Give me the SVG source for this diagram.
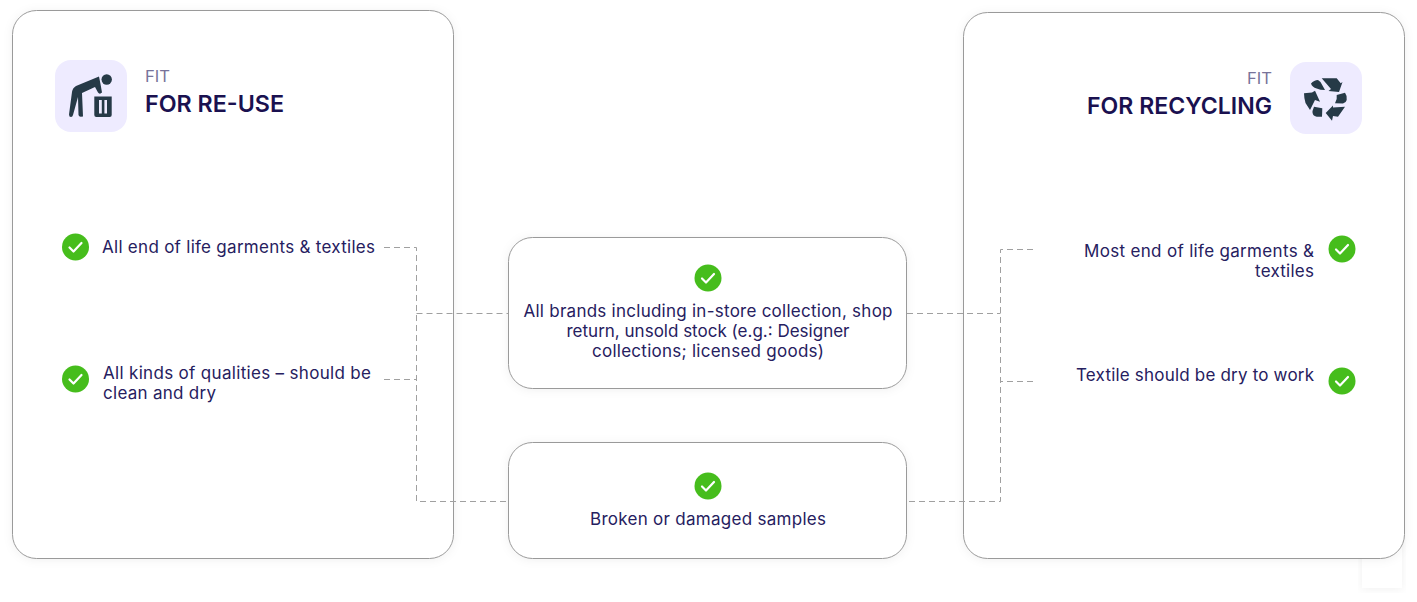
<svg xmlns="http://www.w3.org/2000/svg" width="1417" height="602" viewBox="0 0 1417 602">
<style>
.card{fill:#fff;stroke:#9a9a9a;stroke-width:1;filter:url(#sh)}
.tile{fill:#eeebff}
.ink{fill:#263a47}
.fit{font:400 16px Inter,"Liberation Sans",sans-serif;fill:#77739a}
.head{font:600 23px Inter,"Liberation Sans",sans-serif;fill:#1a1150}
.t{font:400 17px Inter,"Liberation Sans",sans-serif;fill:#262060}
.m{text-anchor:middle}
.e{text-anchor:end}
.dash{fill:none;stroke:#a0a0a0;stroke-width:1;stroke-dasharray:6 4}
.ok{fill:#46bd1c}
.tick{fill:none;stroke:#fff;stroke-width:2.2;stroke-linecap:round;stroke-linejoin:round}
</style>
<defs>
<filter id="sh" x="-10%" y="-10%" width="120%" height="120%"><feDropShadow dx="0" dy="1" stdDeviation="5" flood-color="#000" flood-opacity=".06"/></filter>
<g id="check"><circle class="ok" r="13.500"/><path class="tick" d="M-6 0.500 L-2 4.500 L6 -4"/></g>
</defs>
<rect id="backdrop" width="1417" height="602" fill="#fff"/>
<rect x="1362" y="540" width="40" height="48" fill="#fff" filter="url(#sh)"/>
<g id="card-reuse">
<rect class="card" x="12.500" y="10.500" width="441" height="548" rx="24"/>
<rect class="tile" x="55" y="60" width="72" height="72" rx="16"/>
<g class="ink">
<circle cx="106.700" cy="79.500" r="5.200"/>
<path d="M99 76.500 L76 86 Q72.500 88 72 92 L69 114.500 Q69 117 71 117 Q72.500 117 73 115 L78 97 L78.500 115 Q79 117 81 116.800 L83 116.500 L82 93 L95 87 L98 92.500 Q99 94 100.500 93.500 L102 92.500 L100.500 84 Z"/>
<path fill-rule="evenodd" d="M94.300 96.500 H111.700 V115 Q111.700 117 109.700 117 H96.300 Q94.300 117 94.300 115 Z M99 100 V113.500 H101.800 V100 Z M104.400 100 V113.500 H107 V100 Z"/>
</g>
<text class="fit" x="145" y="82" textLength="25" lengthAdjust="spacingAndGlyphs">FIT</text>
<text class="head" x="145" y="112" textLength="139" lengthAdjust="spacingAndGlyphs">FOR RE-USE</text>
<use href="#check" x="75.500" y="247"/>
<text class="t" x="102" y="253" textLength="273">All end of life garments &amp; textiles</text>
<use href="#check" x="75.500" y="379"/>
<text class="t" x="103" y="379" textLength="268">All kinds of qualities – should be</text>
<text class="t" x="103" y="399" textLength="113">clean and dry</text>
</g>
<g id="card-recycling">
<rect class="card" x="963.500" y="12.500" width="441" height="546" rx="24"/>
<rect class="tile" x="1290" y="62" width="72" height="72" rx="16"/>
<g class="ink">
<path d="M1321.700 78.300 L1336.700 78.300 L1340.700 83.300 L1342.500 82 L1339 92 L1328.500 91 L1331 89 Z"/>
<path d="M1311 83.500 Q1314 80 1318 80 L1320.500 82 L1325 90 Q1320 90 1316.700 88.500 Q1312 87 1311 83.500 Z"/>
<path d="M1336.700 95 L1345 92.700 Q1347.500 96 1346.700 100 Q1346 103 1343 103.500 L1335 103.300 Q1337.500 99 1336.700 95 Z"/>
<path d="M1304 93.300 L1312 92.500 L1315 90.800 L1320 101.700 L1315 100 L1310 110 L1305.500 103 Q1304 98 1304 93.300 Z"/>
<path d="M1314 106.700 L1322.300 108.300 L1322 116.700 L1316.700 116.700 Q1312 116 1312.500 111 Z"/>
<path d="M1325.700 113 L1333 105.500 L1333 107.500 L1345 106.700 L1338 116.700 L1333 116 L1332 120.700 Z"/>
</g>
<text class="fit e" x="1272" y="84" textLength="25" lengthAdjust="spacingAndGlyphs">FIT</text>
<text class="head e" x="1272" y="114" textLength="185" lengthAdjust="spacingAndGlyphs">FOR RECYCLING</text>
<use href="#check" x="1342" y="249"/>
<text class="t e" x="1314" y="257" textLength="230">Most end of life garments &amp;</text>
<text class="t e" x="1314" y="277" textLength="59">textiles</text>
<use href="#check" x="1342" y="381"/>
<text class="t e" x="1314" y="381" textLength="238">Textile should be dry to work</text>
</g>
<g id="node-brands">
<rect class="card" x="508.500" y="237.500" width="398" height="151" rx="24"/>
<use href="#check" x="708" y="278"/>
<text class="t m" x="708" y="317" textLength="369">All brands including in-store collection, shop</text>
<text class="t m" x="708" y="337" textLength="283">return, unsold stock (e.g.: Designer</text>
<text class="t m" x="708" y="357" textLength="232">collections; licensed goods)</text>
</g>
<g id="node-samples">
<rect class="card" x="508.500" y="442.500" width="398" height="116" rx="24"/>
<use href="#check" x="708" y="486"/>
<text class="t m" x="708" y="525" textLength="236">Broken or damaged samples</text>
</g>
<g id="connectors">
<path class="dash" d="M384 247.500 H416.500 V501.500 H508"/>
<path class="dash" d="M384 379.500 H416.500"/>
<path class="dash" d="M416.500 313.500 H508"/>
<path class="dash" d="M907 313.500 H1000.500"/>
<path class="dash" d="M1033 249.500 H1000.500 V501.500 H907"/>
<path class="dash" d="M1033 381.500 H1000.500"/>
</g>
</svg>
